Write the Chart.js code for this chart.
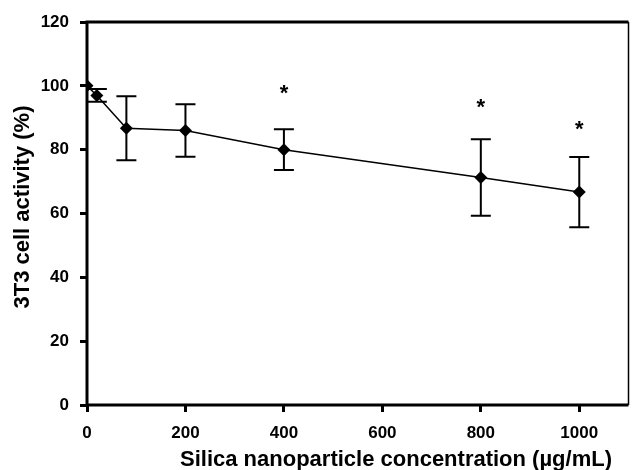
<!DOCTYPE html>
<html>
<head>
<meta charset="utf-8">
<script src="https://cdn.jsdelivr.net/npm/chart.js@4"></script>
<style>
  html, body { margin: 0; padding: 0; background: #fff; }
  #wrap { width: 635px; height: 470px; position: relative; }
</style>
</head>
<body>
<div id="wrap"><canvas id="chart"></canvas></div>
<script>
// concentration (ug/mL) and 3T3 activity (%)
const concentrations = [0, 20, 80, 200, 400, 800, 1000];
const activity       = [100, 97, 86.7, 86, 80, 71.3, 66.7];
const errors         = [0, 2, 10, 8.2, 6.4, 12, 11];
// significance marks (* above the bar)
const starX = [400, 800, 1000];
const starY = [98.7, 94.4, 87.5];
const xTicks = [0, 200, 400, 600, 800, 1000];
const yTicks = [0, 20, 40, 60, 80, 100, 120];
const xTitle = 'Silica nanoparticle concentration (µg/mL)';
const yTitle = '3T3 cell activity (%)';

const FONT = 'Arial, "Liberation Sans", sans-serif';

// error bars + asterisks, drawn through the scales
const errorBars = {
    id: 'errorBars',
    afterDatasetsDraw(chart) {
        const { ctx, scales: { x, y } } = chart;
        ctx.save();
        ctx.strokeStyle = '#000';
        ctx.lineWidth = 2;
        concentrations.forEach((c, i) => {
            if (!errors[i]) return;
            const px = x.getPixelForValue(c);
            const top = y.getPixelForValue(activity[i] + errors[i]);
            const bot = y.getPixelForValue(activity[i] - errors[i]);
            const half = 10;
            ctx.beginPath();
            ctx.moveTo(px, top); ctx.lineTo(px, bot);
            ctx.moveTo(px - half, top); ctx.lineTo(px + half, top);
            ctx.moveTo(px - half, bot); ctx.lineTo(px + half, bot);
            ctx.stroke();
        });
        ctx.fillStyle = '#000';
        ctx.font = 'bold 22px ' + FONT;
        ctx.textAlign = 'center';
        ctx.textBaseline = 'middle';
        starX.forEach((sx, i) => {
            ctx.fillText('*', x.getPixelForValue(sx), y.getPixelForValue(starY[i]) + 4);
        });
        ctx.restore();
    }
};

// frame: thick left/bottom/top, thin right; axis titles
const frame = {
    id: 'frame',
    beforeDatasetsDraw(chart) {
        const { ctx, chartArea: a } = chart;
        ctx.save();
        ctx.strokeStyle = '#000';
        ctx.lineWidth = 3;
        ctx.beginPath();
        ctx.moveTo(a.right, a.top); ctx.lineTo(a.left, a.top);
        ctx.lineTo(a.left, a.bottom); ctx.lineTo(a.right, a.bottom);
        ctx.stroke();
        ctx.lineWidth = 1.5;
        ctx.beginPath();
        ctx.moveTo(a.right, a.top); ctx.lineTo(a.right, a.bottom);
        ctx.stroke();

        ctx.fillStyle = '#000';
        ctx.font = 'bold 22px ' + FONT;
        ctx.textAlign = 'center';
        ctx.textBaseline = 'alphabetic';
        ctx.fillText(xTitle, 396, 466);
        ctx.translate(29, 207);
        ctx.rotate(-Math.PI / 2);
        ctx.fillText(yTitle, 0, 0);
        ctx.restore();
    }
};

const tickGrid = { display: true, drawOnChartArea: false, drawTicks: true, tickLength: 7, tickWidth: 3, tickColor: '#000', color: '#000' };

new Chart(document.getElementById('chart'), {
    type: 'scatter',
    data: {
        datasets: [{
            data: concentrations.map((c, i) => ({ x: c, y: activity[i] })),
            showLine: true,
            borderColor: '#000',
            borderWidth: 1.5,
            backgroundColor: '#000',
            pointStyle: 'rectRot',
            pointRadius: 6.5,
            pointBorderWidth: 0,
        }],
    },
    options: {
        responsive: true,
        maintainAspectRatio: false,
        animation: false,
        layout: { padding: { left: 0, right: 3, top: 22, bottom: 0 } },
        plugins: { legend: { display: false }, tooltip: { enabled: false } },
        scales: {
            x: {
                type: 'linear', min: 0, max: 1100,
                afterBuildTicks: s => { s.ticks = xTicks.map(v => ({ value: v })); },
                afterFit: s => { s.height = 65; },
                grid: tickGrid,
                border: { display: false },
                ticks: { color: '#000', padding: 11, maxRotation: 0, callback: v => String(v),
                         font: { family: FONT, size: 17, weight: 'bold' } },
            },
            y: {
                type: 'linear', min: 0, max: 120,
                afterBuildTicks: s => { s.ticks = yTicks.map(v => ({ value: v })); },
                afterFit: s => { s.width = 87; },
                grid: tickGrid,
                border: { display: false },
                ticks: { color: '#000', padding: 11, callback: v => String(v),
                         font: { family: FONT, size: 17, weight: 'bold' } },
            },
        },
    },
    plugins: [frame, errorBars],
});
</script>
</body>
</html>
